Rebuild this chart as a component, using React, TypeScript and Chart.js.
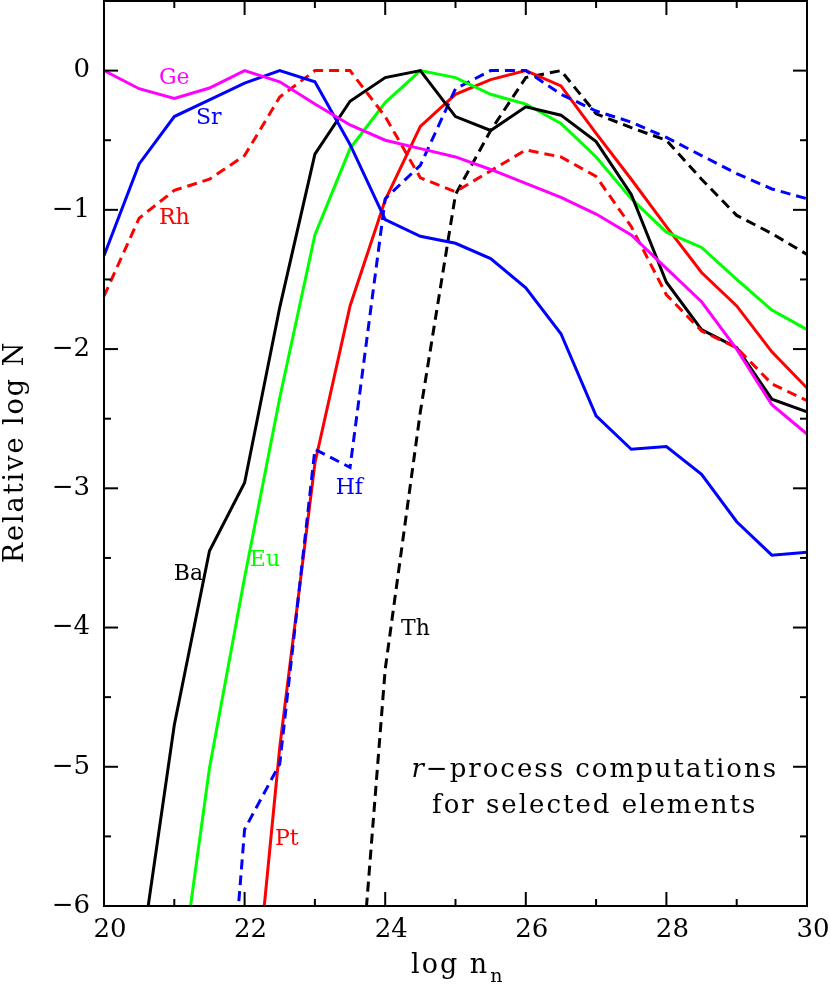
import React, { useEffect, useRef } from "react";
import { Chart, registerables } from "chart.js";

Chart.register(...registerables);

// log n_n sampling
const logNn = [20, 20.5, 21, 21.5, 22, 22.5, 23, 23.5, 24, 24.5, 25, 25.5, 26, 26.5, 27, 27.5, 28, 28.5, 29, 29.5, 30];

// Relative log N for each element (null = not computed / off chart)
const geValues = [0, -0.13, -0.2, -0.125, 0, -0.08, -0.24, -0.39, -0.5, -0.56, -0.62, -0.71, -0.81, -0.91, -1.03, -1.18, -1.42, -1.66, -2.0, -2.4, -2.61];
const srValues = [-1.33, -0.67, -0.33, -0.21, -0.09, 0, -0.08, -0.53, -1.07, -1.19, -1.24, -1.35, -1.56, -1.89, -2.48, -2.72, -2.7, -2.9, -3.24, -3.48, -3.46];
const rhValues = [-1.62, -1.06, -0.86, -0.78, -0.61, -0.19, 0, 0, -0.33, -0.77, -0.87, -0.72, -0.57, -0.62, -0.76, -1.12, -1.61, -1.87, -1.99, -2.25, -2.37];
const baValues = [null, -6.45, -4.7, -3.45, -2.96, -1.7, -0.6, -0.22, -0.05, 0, -0.33, -0.43, -0.26, -0.32, -0.51, -0.89, -1.52, -1.86, -1.99, -2.36, -2.45];
const euValues = [null, null, -6.85, -5.01, -3.64, -2.35, -1.18, -0.56, -0.23, 0, -0.05, -0.17, -0.24, -0.38, -0.62, -0.92, -1.16, -1.27, -1.5, -1.72, -1.86];
const hfValues = [null, null, null, -8.6, -5.45, -4.98, -2.72, -2.85, -0.92, -0.68, -0.13, 0, 0, -0.17, -0.29, -0.37, -0.48, -0.61, -0.74, -0.85, -0.92];
const ptValues = [null, null, null, null, -7.45, -4.86, -2.82, -1.69, -0.93, -0.4, -0.17, -0.065, 0, -0.11, -0.45, -0.78, -1.12, -1.45, -1.69, -2.02, -2.28];
const thValues = [null, null, null, null, null, null, null, -7.5, -4.3, -2.45, -0.89, -0.43, -0.05, 0, -0.31, -0.41, -0.5, -0.78, -1.04, -1.17, -1.32];

// axis ticks
const xTickValues = [20, 22, 24, 26, 28, 30];
const xMinorTickValues = [21, 23, 25, 27, 29];
const yTickValues = [-6, -5, -4, -3, -2, -1, 0];
const yMinorTickValues = [-5.5, -4.5, -3.5, -2.5, -1.5, -0.5];

const FONT = "'DejaVu Serif', serif";

type Series = { name: string; values: (number | null)[]; color: string; dashed: boolean };
const series: Series[] = [
  { name: "Ge", values: geValues, color: "#ff00ff", dashed: false },
  { name: "Sr", values: srValues, color: "#0000ff", dashed: false },
  { name: "Rh", values: rhValues, color: "#ff0000", dashed: true },
  { name: "Ba", values: baValues, color: "#000000", dashed: false },
  { name: "Eu", values: euValues, color: "#00ff00", dashed: false },
  { name: "Hf", values: hfValues, color: "#0000ff", dashed: true },
  { name: "Pt", values: ptValues, color: "#ff0000", dashed: false },
  { name: "Th", values: thValues, color: "#000000", dashed: true },
];

// curve labels (anchored in data coordinates)
const curveLabels = [
  { text: "Ge", x: 21.0, y: -0.055, color: "#ff00ff" },
  { text: "Sr", x: 21.49, y: -0.34, color: "#0000ff" },
  { text: "Rh", x: 21.0, y: -1.06, color: "#ff0000" },
  { text: "Ba", x: 21.2, y: -3.62, color: "#000000" },
  { text: "Eu", x: 22.29, y: -3.52, color: "#00ff00" },
  { text: "Hf", x: 23.49, y: -3.0, color: "#0000ff" },
  { text: "Th", x: 24.43, y: -4.01, color: "#000000" },
  { text: "Pt", x: 22.6, y: -5.52, color: "#ff0000" },
];

const fmt = (v: number) => (v < 0 ? "\u2212" + Math.abs(v) : String(v));

const decorPlugin = {
  id: "decor",
  afterDatasetsDraw(chart: any) {
    const { ctx, chartArea: a, scales } = chart;
    const x = scales.x;
    const y = scales.y;
    ctx.save();
    ctx.strokeStyle = "#000";
    ctx.lineWidth = 2;
    ctx.setLineDash([]);
    ctx.strokeRect(a.left, a.top, a.right - a.left, a.bottom - a.top);
    const seg = (x1: number, y1: number, x2: number, y2: number) => {
      ctx.beginPath();
      ctx.moveTo(x1, y1);
      ctx.lineTo(x2, y2);
      ctx.stroke();
    };
    const xt = (v: number, len: number) => {
      const p = x.getPixelForValue(v);
      seg(p, a.bottom, p, a.bottom - len);
      seg(p, a.top, p, a.top + len);
    };
    const yt = (v: number, len: number) => {
      const p = y.getPixelForValue(v);
      seg(a.left, p, a.left + len, p);
      seg(a.right, p, a.right - len, p);
    };
    xTickValues.forEach((v) => xt(v, 14));
    xMinorTickValues.forEach((v) => xt(v, 7));
    yTickValues.forEach((v) => yt(v, 14));
    yMinorTickValues.forEach((v) => yt(v, 7));

    // curve labels
    ctx.textAlign = "center";
    ctx.textBaseline = "middle";
    ctx.font = `22px ${FONT}`;
    curveLabels.forEach((l) => {
      ctx.fillStyle = l.color;
      ctx.fillText(l.text, x.getPixelForValue(l.x), y.getPixelForValue(l.y));
    });

    // annotation
    ctx.fillStyle = "#000";
    (ctx as any).letterSpacing = "2px";
    ctx.textBaseline = "alphabetic";
    ctx.textAlign = "left";
    const cx = x.getPixelForValue(26.98);
    const y1 = y.getPixelForValue(-5.07);
    const y2 = y.getPixelForValue(-5.33);
    ctx.font = `italic 26px ${FONT}`;
    const rW = ctx.measureText("r").width;
    ctx.font = `26px ${FONT}`;
    const restW = ctx.measureText("\u2212process computations").width;
    const sx = cx - (rW + restW) / 2;
    ctx.font = `italic 26px ${FONT}`;
    ctx.fillText("r", sx, y1);
    ctx.font = `26px ${FONT}`;
    ctx.fillText("\u2212process computations", sx + rW, y1);
    ctx.textAlign = "center";
    ctx.fillText("for selected elements", cx, y2);

    // x-axis title: log n_n
    ctx.textAlign = "left";
    ctx.font = `27px ${FONT}`;
    ctx.fillText("log n", 411, 973);
    const mw = ctx.measureText("log n").width;
    ctx.font = `19px ${FONT}`;
    ctx.fillText("n", 411 + mw + 1, 982);

    // y-axis title
    ctx.font = `27px ${FONT}`;
    ctx.textAlign = "center";
    ctx.translate(23, 452);
    ctx.rotate(-Math.PI / 2);
    ctx.fillText("Relative log N", 0, 0);
    ctx.restore();
  },
};

export default function App() {
  const ref = useRef<HTMLCanvasElement>(null);
  useEffect(() => {
    document.body.style.margin = "0";
    const canvas = ref.current!;
    const chart = new Chart(canvas, {
      type: "line",
      data: {
        datasets: series.map((s) => ({
          label: s.name,
          data: logNn.map((xv, i) => ({ x: xv, y: s.values[i] as any })),
          borderColor: s.color,
          backgroundColor: s.color,
          borderWidth: 3,
          borderDash: s.dashed ? [10, 6] : [],
          pointRadius: 0,
          tension: 0,
          fill: false,
          spanGaps: false,
        })),
      },
      options: {
        responsive: false,
        animation: false,
        devicePixelRatio: 1,
        layout: { padding: { top: 1, right: 23, left: 0, bottom: 0 } },
        plugins: { legend: { display: false }, tooltip: { enabled: false } },
        scales: {
          x: {
            type: "linear",
            min: 20,
            max: 30,
            grid: { display: false, drawTicks: false },
            border: { display: false },
            afterBuildTicks: (s: any) => {
              s.ticks = xTickValues.map((v) => ({ value: v }));
            },
            afterFit: (s: any) => {
              s.height = 79;
              s.paddingLeft = 0;
              s.paddingRight = 0;
            },
            ticks: {
              callback: (v: any) => fmt(Number(v)),
              font: { family: FONT, size: 26 },
              color: "#000",
              padding: 9,
              labelOffset: 6,
              maxRotation: 0,
            },
          },
          y: {
            type: "linear",
            min: -6,
            max: 0.5,
            grid: { display: false, drawTicks: false },
            border: { display: false },
            afterBuildTicks: (s: any) => {
              s.ticks = yTickValues.map((v) => ({ value: v }));
            },
            afterFit: (s: any) => {
              s.width = 104;
              s.paddingTop = 0;
              s.paddingBottom = 0;
            },
            ticks: {
              callback: (v: any) => fmt(Number(v)),
              font: { family: FONT, size: 26 },
              color: "#000",
              padding: 14,
            },
          },
        },
      },
      plugins: [decorPlugin],
    } as any);
    return () => chart.destroy();
  }, []);
  return (
    <div style={{ width: 830, height: 985 }}>
      <canvas ref={ref} width={830} height={985} style={{ display: "block" }} />
    </div>
  );
}
